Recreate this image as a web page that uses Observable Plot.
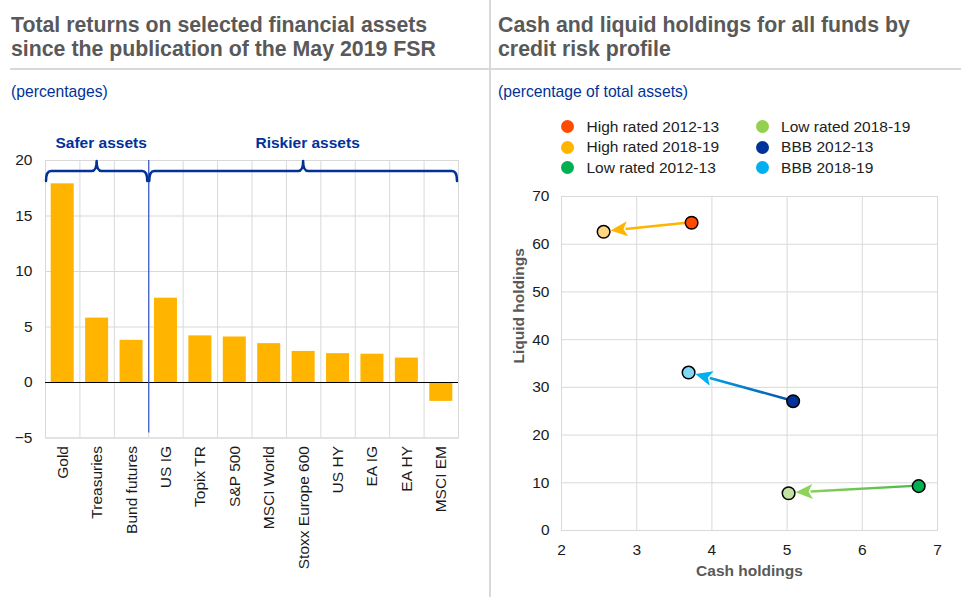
<!DOCTYPE html>
<html>
<head>
<meta charset="utf-8">
<script src="https://cdn.jsdelivr.net/npm/d3@7"></script>
<script src="https://cdn.jsdelivr.net/npm/@observablehq/plot@0.6"></script>
<style>
  html, body { margin: 0; padding: 0; background: #fff; }
  body { width: 961px; height: 597px; position: relative; overflow: hidden;
         font-family: "Liberation Sans", Arial, sans-serif; }
  .abs { position: absolute; }
  .title { font-size: 21.3px; font-weight: bold; line-height: 24px; color: #595959; white-space: nowrap; }
  .rule { height: 2px; background: #d9d9d9; top: 68px; }
  .sub { font-size: 15.7px; color: #003299; top: 82.5px; }
  #sep { left: 489px; top: 0; width: 2px; height: 597px; background: #d9d9d9; }
  #legend { left: 561px; top: 116.5px; display: grid; grid-template-columns: 194.6px auto;
            grid-auto-rows: 20.5px; font-size: 15.5px; color: #222; }
  .item { display: flex; align-items: center; }
  .sw { width: 13px; height: 13px; border-radius: 50%; margin-right: 12.5px; flex: none; }
</style>
</head>
<body>
<div id="sep" class="abs"></div>
<div class="abs title" style="left:11px; top:13px;">Total returns on selected financial assets<br>since the publication of the May 2019 FSR</div>
<div class="abs title" style="left:498px; top:13px;">Cash and liquid holdings for all funds by<br>credit risk profile</div>
<div class="abs rule" style="left:10px; width:480px;"></div>
<div class="abs rule" style="left:491px; width:470px;"></div>
<div class="abs sub" style="left:11px;">(percentages)</div>
<div class="abs sub" style="left:498px;">(percentage of total assets)</div>
<div id="left" class="abs" style="left:0; top:100px;"></div>
<div id="legend" class="abs"></div>
<div id="right" class="abs" style="left:490px; top:180px;"></div>
<script>
// ---------- Left chart data ----------
const categories = ["Gold", "Treasuries", "Bund futures", "US IG", "Topix TR", "S&P 500",
  "MSCI World", "Stoxx Europe 600", "US HY", "EA IG", "EA HY", "MSCI EM"];
const returns = [17.9, 5.8, 3.8, 7.6, 4.2, 4.1, 3.5, 2.8, 2.6, 2.55, 2.2, -1.7];
const groupLabels = ["Safer assets", "Riskier assets"];
const groupStart = [0, 3];
const groupEnd = [3, 12];
const yTicksLeft = [-5, 0, 5, 10, 15, 20];

// ---------- Right chart data ----------
const profiles = ["High rated", "Low rated", "BBB"];
const cash2012 = [3.73, 6.75, 5.08];
const liquid2012 = [64.5, 9.3, 27.1];
const cash2018 = [2.56, 5.02, 3.69];
const liquid2018 = [62.6, 7.8, 33.1];
const color2012 = ["#FF4B00", "#00B050", "#003299"];
const color2018 = ["#FFB400", "#92D050", "#00B0F0"];
const fill2018 = ["#FFD580", "#C4E2A3", "#80D8F6"];
const arrowStart = ["#FFB400", "#4DB848", "#0A4FA8"];
const arrowEnd = ["#FFB400", "#8FD45A", "#00B0F0"];
const legendOrder = [
  ["High rated 2012-13", "#FF4B00"], ["Low rated 2018-19", "#92D050"],
  ["High rated 2018-19", "#FFB400"], ["BBB 2012-13", "#003299"],
  ["Low rated 2012-13", "#00B050"], ["BBB 2018-19", "#00B0F0"]
];
const xTicksRight = [2, 3, 4, 5, 6, 7];
const yTicksRight = [0, 10, 20, 30, 40, 50, 60, 70];

const font = '"Liberation Sans", Arial, sans-serif';
const grid = "#d9d9d9";
const fs = 15.5;

// ---------- Left chart ----------
const bars = categories.map((c, i) => ({name: c, i, value: returns[i]}));
const groups = groupLabels.map((l, i) => ({label: l, start: groupStart[i], end: groupEnd[i]}));

const braces = (index, scales) => {
  const g = d3.create("svg:g").attr("fill", "none").attr("stroke", "#003299")
    .attr("stroke-width", 2.5).attr("stroke-linejoin", "round").attr("stroke-linecap", "round");
  for (const gr of groups) {
    const x0 = scales.x(gr.start) + 1, x1 = scales.x(gr.end) - 1;
    const xm = scales.x((gr.start + gr.end) / 2);
    const yb = scales.y(19), yt = scales.y(18.1), yp = scales.y(19.9);
    const r = 5;
    g.append("path").attr("d",
      `M${x0},${yt} Q${x0},${yb} ${x0 + r},${yb} L${xm - r},${yb} Q${xm},${yb} ${xm},${yp} ` +
      `Q${xm},${yb} ${xm + r},${yb} L${x1 - r},${yb} Q${x1},${yb} ${x1},${yt}`);
  }
  return g.node();
};

const left = Plot.plot({
  width: 490, height: 497,
  marginLeft: 45, marginRight: 32, marginTop: 60, marginBottom: 159.5,
  style: {fontFamily: font, fontSize: fs + "px", color: "#1a1a1a", background: "transparent"},
  x: {type: "linear", domain: [0, categories.length], axis: null},
  y: {domain: [-5, 20], axis: null},
  marks: [
    Plot.gridY(yTicksLeft, {stroke: grid, strokeOpacity: 1}),
    Plot.gridX(d3.range(categories.length + 1), {stroke: grid, strokeOpacity: 1}),
    Plot.frame({stroke: grid}),
    Plot.rectY(bars, {x1: "i", x2: d => d.i + 1, y: "value", fill: "#FFB400", insetLeft: 5.7, insetRight: 5.7}),
    Plot.ruleY([0], {stroke: "#000", strokeWidth: 1.2}),
    Plot.ruleX([groupEnd[0]], {y1: -4.55, y2: 20, stroke: "#2F55C0", strokeWidth: 1.2}),
    Plot.axisY(yTicksLeft, {tickSize: 0, tickPadding: 13, fontSize: fs, label: null}),
    Plot.axisX(categories.map((_, i) => i + 0.5), {
      tickFormat: v => categories[Math.floor(v)], tickRotate: -90, tickSize: 0, tickPadding: 8, fontSize: fs, label: null
    }),
    braces,
    Plot.text(groups, {x: d => (d.start + d.end) / 2, y: 20, dy: -17.5, dx: 4, text: "label",
      fill: "#003299", fontWeight: "bold", fontSize: fs})
  ]
});
document.getElementById("left").appendChild(left);

// ---------- Legend ----------
const legend = document.getElementById("legend");
for (const [label, col] of legendOrder) {
  const it = document.createElement("div");
  it.className = "item";
  it.innerHTML = `<span class="sw" style="background:${col}"></span><span>${label}</span>`;
  legend.appendChild(it);
}

// ---------- Right chart ----------
const moves = profiles.map((p, i) => ({
  profile: p, c1: cash2012[i], l1: liquid2012[i], c2: cash2018[i], l2: liquid2018[i],
  s: arrowStart[i], e: arrowEnd[i]
}));
const pts = [
  ...profiles.map((p, i) => ({cash: cash2012[i], liquid: liquid2012[i], fill: color2012[i]})),
  ...profiles.map((p, i) => ({cash: cash2018[i], liquid: liquid2018[i], fill: fill2018[i]}))
];

const arrows = (index, scales) => {
  const g = d3.create("svg:g");
  const defs = g.append("defs");
  moves.forEach((m, i) => {
    const x1 = scales.x(m.c1), y1 = scales.y(m.l1), x2 = scales.x(m.c2), y2 = scales.y(m.l2);
    const dx = x2 - x1, dy = y2 - y1, L = Math.hypot(dx, dy), ux = dx / L, uy = dy / L;
    const endGap = 7.5, headLen = 17, headW = 7.5;
    const tx = x2 - ux * endGap, ty = y2 - uy * endGap;
    const bx = tx - ux * headLen, by = ty - uy * headLen;
    const px = -uy, py = ux;
    const id = "agrad" + i;
    const lg = defs.append("linearGradient").attr("id", id).attr("gradientUnits", "userSpaceOnUse")
      .attr("x1", x1).attr("y1", y1).attr("x2", tx).attr("y2", ty);
    lg.append("stop").attr("offset", "0%").attr("stop-color", m.s);
    lg.append("stop").attr("offset", "100%").attr("stop-color", m.e);
    g.append("line").attr("x1", x1).attr("y1", y1).attr("x2", bx + ux * 2).attr("y2", by + uy * 2)
      .attr("stroke", `url(#${id})`).attr("stroke-width", 2.5);
    g.append("path")
      .attr("d", `M${tx},${ty} L${bx + px * headW},${by + py * headW} L${bx + ux * 4},${by + uy * 4} L${bx - px * headW},${by - py * headW} Z`)
      .attr("fill", m.e);
  });
  return g.node();
};

const right = Plot.plot({
  width: 471, height: 417,
  marginLeft: 71, marginRight: 24, marginTop: 16, marginBottom: 67,
  style: {fontFamily: font, fontSize: fs + "px", color: "#1a1a1a", background: "transparent"},
  x: {domain: [2, 7], axis: null},
  y: {domain: [0, 70], axis: null},
  marks: [
    Plot.gridX(xTicksRight, {stroke: grid, strokeOpacity: 1}),
    Plot.gridY(yTicksRight, {stroke: grid, strokeOpacity: 1}),
    Plot.frame({stroke: grid}),
    arrows,
    Plot.dot(pts, {x: "cash", y: "liquid", fill: "fill", r: 6.3, stroke: "#000", strokeWidth: 1.5}),
    Plot.axisX(xTicksRight, {tickSize: 0, tickPadding: 13, fontSize: fs, label: null}),
    Plot.axisY(yTicksRight, {tickSize: 0, tickPadding: 12, fontSize: fs, label: null}),
    Plot.text(["Cash holdings"], {frameAnchor: "bottom", dy: 45, fill: "#595959", fontWeight: "bold", fontSize: fs}),
    Plot.text(["Liquid holdings"], {frameAnchor: "left", dx: -42, rotate: -90, fill: "#595959", fontWeight: "bold", fontSize: fs})
  ]
});
document.getElementById("right").appendChild(right);
</script>
</body>
</html>
